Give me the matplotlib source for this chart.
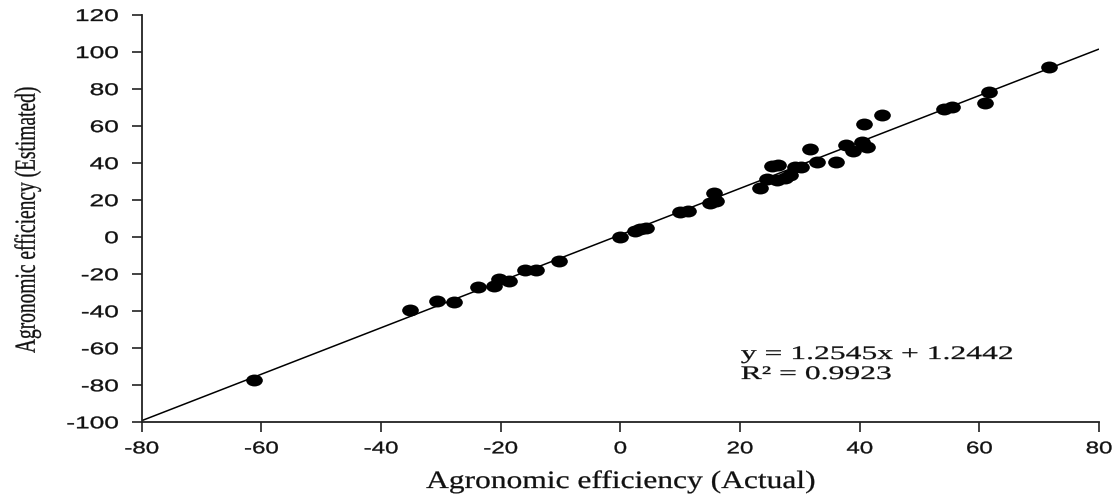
import matplotlib
matplotlib.use("Agg")
import matplotlib.pyplot as plt
from matplotlib.path import Path
from matplotlib.patheffects import AbstractPathEffect
from matplotlib.transforms import Affine2D

# ---------------- data ----------------
actual = [-61.3, -35.1, -30.6, -27.8, -23.8, -21.2, -20.3, -18.6, -15.9, -14.1,
          -10.3, 0.0, 2.5, 3.3, 4.3, 10.0, 11.3, 15.0, 15.6, 16.0,
          23.4, 24.5, 25.4, 26.4, 26.2, 27.6, 28.4, 29.2, 30.2, 31.7,
          32.8, 36.1, 37.7, 38.9, 40.4, 41.3, 40.7, 43.8, 54.1, 55.5,
          60.9, 61.6, 71.6]
estimated = [-77.3, -39.4, -34.4, -35.0, -26.8, -26.5, -22.7, -23.8, -17.8, -18.0,
             -13.0, 0.0, 3.5, 4.6, 4.8, 13.7, 14.4, 18.2, 23.6, 19.6,
             26.3, 31.2, 38.6, 38.8, 30.8, 32.2, 33.8, 37.8, 38.0, 47.5,
             40.7, 40.5, 50.0, 46.3, 51.5, 48.8, 61.2, 65.9, 69.0, 70.4,
             72.4, 78.5, 91.7]
slope = 1.2545
intercept = 1.2442
r_squared = 0.9923
x_ticks = [-80, -60, -40, -20, 0, 20, 40, 60, 80]
y_ticks = [-100, -80, -60, -40, -20, 0, 20, 40, 60, 80, 100, 120]
x_label = "Agronomic efficiency (Actual)"
y_label = "Agronomic efficiency (Estimated)"
eq_text = "y = 1.2545x + 1.2442"
r2_text = "R\u00b2 = 0.9923"


# horizontal stretch of the glyphs (the reference picture is widened)
class HStretch(AbstractPathEffect):
    def __init__(self, sx, anchor="center", stroke=0.0):
        super().__init__()
        self.sx = sx
        self.anchor = anchor
        self.stroke = stroke

    def draw_path(self, renderer, gc, tpath, affine, rgbFace=None):
        ext = tpath.get_extents(affine)
        if self.anchor == "left":
            cx = ext.x0
        elif self.anchor == "right":
            cx = ext.x1
        else:
            cx = 0.5 * (ext.x0 + ext.x1)
        tr = affine + Affine2D().translate(-cx, 0).scale(self.sx, 1).translate(cx, 0)
        gc0 = renderer.new_gc()
        gc0.copy_properties(gc)
        if self.stroke > 0 and rgbFace is not None:
            gc0.set_linewidth(self.stroke)
            gc0.set_foreground(rgbFace)
        renderer.draw_path(gc0, tpath, tr, rgbFace)
        gc0.restore()


plt.rcParams["axes.unicode_minus"] = False

fig = plt.figure(figsize=(11.18, 4.94), dpi=100)
ax = fig.add_axes([0.12675, 0.14514, 0.85626, 0.82449])

ax.set_xlim(x_ticks[0], x_ticks[-1])
ax.set_ylim(y_ticks[0], y_ticks[-1])

# regression line
line_x = [x_ticks[0], x_ticks[-1]]
line_y = [slope * v + intercept for v in line_x]
ax.plot(line_x, line_y, color="black", lw=1.1, zorder=2, solid_capstyle="butt")

# elliptical markers (wider than tall)
ell = Path.unit_circle().transformed(Affine2D().scale(1.4, 1.0))
ax.plot(actual, estimated, linestyle="none", marker=ell, ms=12.0, mew=0,
        color="black", zorder=3)

# spines
for s in ["top", "right"]:
    ax.spines[s].set_visible(False)
for s in ["left", "bottom"]:
    ax.spines[s].set_color("#222222")
    ax.spines[s].set_linewidth(1.3)

ax.set_xticks(x_ticks, labels=[str(v) for v in x_ticks])
ax.set_yticks(y_ticks, labels=[str(v) for v in y_ticks])
ax.tick_params(axis="both", direction="out", length=7.2, width=1.2,
               color="#222222", labelcolor="#111111")
ax.tick_params(axis="x", pad=6.5)
ax.tick_params(axis="y", pad=9.6)

for lbl in ax.get_xticklabels():
    lbl.set_fontfamily("Liberation Sans")
    lbl.set_fontsize(12.2)
    lbl.set_path_effects([HStretch(1.42, "center", 0.25)])
for lbl in ax.get_yticklabels():
    lbl.set_fontfamily("Liberation Sans")
    lbl.set_fontsize(12.2)
    lbl.set_path_effects([HStretch(1.55, "right", 0.25)])

xl = ax.set_xlabel(x_label, fontfamily="Liberation Serif", fontsize=18,
                   va="baseline", ha="center", color="#111111")
ax.xaxis.set_label_coords(0.5007, -0.1613)
xl.set_path_effects([HStretch(1.26, "center", 0.2)])

yl = ax.set_ylabel(y_label, fontfamily="Liberation Serif", fontsize=14,
                   va="center", ha="center", color="#111111")
yl.set_rotation_mode("anchor")
ax.yaxis.set_label_coords(-0.1193, 0.499)
yl.set_path_effects([HStretch(1.5, "center", 0.2)])

t1 = ax.text(0.626, 0.1554, eq_text, transform=ax.transAxes,
             fontfamily="Liberation Serif", fontsize=13.8, ha="left",
             va="baseline", color="#111111")
t2 = ax.text(0.626, 0.1063, r2_text, transform=ax.transAxes,
             fontfamily="Liberation Serif", fontsize=13.8, ha="left",
             va="baseline", color="#111111")
for t in (t1, t2):
    t.set_path_effects([HStretch(1.65, "left", 0.2)])

fig.savefig("out.png", dpi=100, facecolor="white")
